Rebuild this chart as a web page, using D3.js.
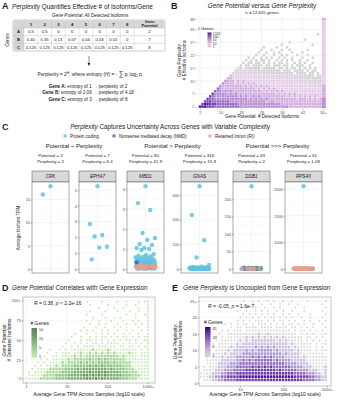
<!DOCTYPE html>
<html>
<head>
<meta charset="utf-8">
<script src="https://cdn.jsdelivr.net/npm/d3@7"></script>
<style>
  body { margin: 0; background: #fff; }
  svg { display: block; font-family: "Liberation Sans", Arial, sans-serif; }
</style>
</head>
<body>
<div id="chart"></div>
<script>
// ---------------- data ----------------
// A: toy table
const isoNums = ["1", "2", "3", "4", "5", "6", "7", "8"];
const toyGenes = ["A", "B", "C"];
const geneA = ["0.5", "0.5", "0", "0", "0", "0", "0", "0"];
const geneB = ["0.40", "0.35", "0.13", "0.07", "0.04", "0.03", "0.01", "0"];
const geneC = ["0.125", "0.125", "0.125", "0.125", "0.125", "0.125", "0.125", "0.125"];
const toyPotential = ["2", "7", "8"];
const toyEntropy = ["1", "2.06", "3"];
const toyPerplexity = ["2", "4.18", "8"];

// B: potential vs perplexity heatmap (row = perplexity 36..2, col = potential 2..49)
const potentialTicks = [2, 10, 18, 26, 34, 42, 50];
const potentialLabels = ["2", "10", "18", "26", "34", "42", "50+"];
const perplexityTicks = [2, 7, 12, 17, 22, 27, 32, 36];
const perplexityLabels = ["2", "7", "12", "17", "22", "27", "33", "48"];
const heatLegend = ["1243", "300", "50", "10", "1"];
const heatRows = [
  "", "", "", "", "", "",
  ".......... .......... .......... .......... ......1.",
  "",
  ".......... .......... .......... .......... .1......",
  ".......... .......... .......... .....1.... ........",
  ".......... .......... .......... ..1....... ....1...",
  ".......... .......... .....1.... 1...1..... ........",
  ".......... .......... ....1...1. ..1..1.... ..1.....",
  ".......... .......... ...1..1..1 .1....1... 1.......",
  ".......... .......... ..1..1...1 ..1.1...1. ..1.....",
  ".......... .........1 .1..1.1.1. .1.1..1... 1...1...",
  ".......... ........1. 1.1.11.1.. 1.1.1.1..1 ..1.....",
  ".......... .......1.1 1.11.1.1.1 .11.1..1.1 .1..1...",
  ".......... ......1.11 .1111.11.1 11.11.1.11 1..1....",
  ".......... .....11.11 1111.11111 .11.1.11.1 .1.1.1..",
  ".......... ....112121 1211111111 11.111.111 1.1.11..",
  ".......... ...2212121 2121211212 1111111.11 11.11.1.",
  ".......... ..32222222 2222222221 2122121212 11111.11",
  ".......... .332222222 2222222222 2222212121 12121111",
  ".......... 4333232322 2222222222 2222222221 21212111",
  ".........4 3333232323 2322222222 2222222222 22212121",
  "........43 3333333232 3232323222 2222222222 22222221",
  ".......543 3333333333 3323232323 2222222222 22222222",
  "......5443 4343333333 3333323232 3232222222 22222222",
  ".....64444 4343433333 3333333333 2323232322 22222222",
  "....654444 4444434343 3434333333 3333232323 23232322",
  "...6554444 4444444443 4343434333 3333333323 33232323",
  "..66655555 5544444444 4444443343 3333333333 33333333",
  ".677666555 5555544444 4444444444 4433333333 33333333",
  "7776665555 5555554444 4444444444 4444433333 33333333"
];
const heatPlusCol = "32222222222222222222222222333334444";

// C: example genes
const isoTypes = ["Protein coding", "Nonsense mediated decay (NMD)", "Retained Intron (RI)"];
const cGroups = ["Potential ~ Perplexity", "Potential > Perplexity", "Potential >>> Perplexity"];
const cGenes = ["CRK", "EPHA7", "MBD1", "GNAS", "DDB1", "RPS4X"];
const cPotential = ["2", "7", "80", "316", "63", "51"];
const cPerplexity = ["2", "6.4", "41.9", "15.9", "2", "1.09"];
const cTicks = [[0, 5, 10, 15], [0, 1, 2, 3, 4, 5], [0, 1, 2, 3, 4], [0, 200, 400, 600], [0, 50, 100, 150, 200], [0, 1000, 2000, 3000]];
const pcTPM = [
  [17.9, 16.1],
  [5.25, 2.85, 2.15, 2.05, 1.4, 1.35, 0.6],
  [4.15, 3.3, 2.95, 1.8, 1.55, 1.45, 1.25, 1.2, 1.05, 1.05, 1.0, 0.95, 0.74, 0.7, 0.66, 0.63, 0.61, 0.57,
   0.55, 0.52, 0.51, 0.49, 0.47, 0.45, 0.44, 0.42, 0.41, 0.4, 0.38, 0.36, 0.36, 0.34, 0.33, 0.31, 0.3, 0.29,
   0.28, 0.27, 0.25, 0.24, 0.24, 0.22, 0.21, 0.2, 0.19, 0.18, 0.17, 0.15, 0.14, 0.13, 0.12, 0.11, 0.1, 0.09,
   0.08, 0.07, 0.06, 0.05, 0.04, 0.03, 0.02, 0.01, 0.01, 0],
  [672, 437, 232, 93, 32, 18, 15, 14, 12, 11, 10, 9, 9, 8, 8, 7, 7, 6, 6, 6, 5, 5, 5, 4, 4, 4, 3, 3, 3, 3,
   2, 2, 2, 2, 2, 1, 1, 1, 1, 1, 1, 0.5, 0.5, 0.5, 0.3, 0.2, 0.1, 0, 0, 0],
  [238, 4, 3.5, 3, 2.5, 2.2, 2, 1.8, 1.5, 1.2, 1, 0.8, 0.6, 0.5, 0.4, 0.3, 0.2, 0.1, 0.05, 0, 0],
  [3120, 25, 18, 12, 8, 5, 3, 2, 1, 0.5, 0]
];
const nmdTPM = [[], [], [0.32, 0.08], [], [2.1, 1.6, 1.1, 0.7, 0.4, 0.2, 0.1, 0], [4, 1]];
const riTPM = [
  [], [],
  [0.2, 0.18, 0.15, 0.14, 0.12, 0.1, 0.09, 0.07, 0.05, 0.03, 0.01, 0],
  [],
  [1.4, 0.9, 0.5, 0.3, 0.1, 0],
  [30, 22, 17, 14, 11, 9, 7, 6, 5, 4, 3, 2.5, 2, 1.5, 1, 0.8, 0.5, 0.3, 0.1, 0]
];

// D: potential vs expression density (row = potential 98..2 step 4, col = log10 TPM 0..3 step 0.075)
const dYTicks = [2, 25, 50, 75, 100];
const dYLabels = ["2", "25", "50", "75", "100+"];
const dXTicks = [1, 10, 100, 1000];
const dXLabels = ["1", "10", "100", "1000+"];
const dLegend = ["50", "20", "5", "1"];
const dRows = [
  ".......... .......... 1....1.... 1..1...1.1 1",
  ".......... .......... .1.....1.. ...1..1... 1",
  ".......... .......... ....1....1 ..1....1.. 1",
  ".......... .......... .1....1... 1...1..1.. 1",
  ".......... .......... 1....1.... ...1..1..1 1",
  ".......... .......... ..1...1..1 .1....1... 1",
  ".......... .......... 1...1...1. ..1..1.1.. 1",
  ".......... .......... .1..1.1... 1..1..1.1. 1",
  ".......... .........1 ...1..1..1 .1.1...1.. 1",
  ".......... ........1. 1.1..1.1.. 1..1.1..1. 1",
  ".......... ......1... 1..1.1.1.1 ..1.1..1.. 1",
  ".......... .....1..1. .1.1.11.1. 1.11.1.1.1 1",
  ".......... ....1...1. 11.1.1.1.1 .1.11.1..1 1",
  ".......... ...1..1.1. 1.11.1.111 1.1.1.1.1. 1",
  ".......... ..1..1.1.1 111.111.11 .11.11.1.1 1",
  "........1. .1.1.11111 1121111211 1111111.1. 1",
  ".......1.. 1.111.1121 1212121212 1111211.11 1",
  "......1..1 1.11112121 2222222222 2121111.11 1",
  ".....1.1.1 1111212222 2322323222 2221111111 1",
  "....1.1.11 1121222232 3232333323 2222211111 1",
  "...1.1.111 2122223333 3434343333 3322211111 1",
  "..1.111122 2223333434 4444444343 3332221111 1",
  ".1.1111222 2233334444 4544545444 4333222111 1",
  ".111112222 3333444445 5454545444 4433322211 1",
  "1111122222 3333444444 5545454444 4333222111 1"
];

// E: perplexity vs expression density (row = perplexity 25..1, col = log10 TPM 0.1..2.97 step 0.07)
const eYTicks = [0, 5, 10, 15, 20, 25];
const eYLabels = ["0", "5", "10", "15", "20", "25+"];
const eXTicks = [10, 100, 1000];
const eXLabels = ["10", "100", "1000+"];
const eLegend = ["45", "20", "5", "1"];
const eRows = [
  ".......... ....1..1.1 ..1.1..1.. 1....1.... .1",
  ".......... ...1...1.. 1..1..1..1 ..1....... 1.",
  ".......... .....1..1. .1..1.1... .1..1..... .1",
  ".......... ..1..1..1. 1.1..1.1.. 1...1..... 1.",
  ".......... ....1.1.1. 1.1.1..1.1 ..1...1... .1",
  ".......... ...1.1.1.1 .1.11.1.1. 1..1..1... 1.",
  ".......... ..1.1.1.11 1.1.1.11.1 .1..1.1..1 .1",
  "........1. 1.1.11.1.1 11.1.1.1.1 1.1.1..1.. 1.",
  ".......... 1.11.1111. 1111.1111. 11.1.1.1.. .1",
  ".......1.1 .111.11111 1111111111 .1.11.1.1. 1.",
  "......1..1 1111111112 1121111111 11.1.1.1.. 11",
  ".....1.1.1 1111121212 1212121211 1111.11.1. 1.",
  ".....1.111 1112121222 2222212121 1111.1.1.1 .1",
  "....1.1111 1121222222 2222222221 2111111.1. 11",
  "....1.1111 2122222232 3232322222 1211111.1. 1.",
  "...1.11112 1222232323 3333232222 2121111.1. 11",
  "...1111121 2222333333 3333333232 2221111111 1.",
  "..1.111212 2233333434 3434333322 2221211111 11",
  "..11111222 2233434344 4444343333 2222211111 11",
  "..11112222 3334444444 4444444433 3322221111 11",
  ".1.1112223 3344444545 4545444444 3333222111 12",
  ".111122233 3444455555 5555545444 4433332221 12",
  "1111222334 4455555555 5555555555 5444433322 12",
  "1112233445 5556666666 6666666666 6555554433 22",
  ".111223344 4455555555 5555555555 5555444433 22"
];

// ---------------- drawing ----------------
const W = 348, H = 400;
const svg = d3.select("#chart").append("svg").attr("width", W).attr("height", H);
const defs = svg.append("defs");
const ink = "#1a1a1a";

function rich(g, x, y, parts, size, anchor) {
  const t = g.append("text").attr("x", x).attr("y", y).attr("font-size", size)
    .attr("text-anchor", anchor || "start").attr("fill", ink);
  parts.forEach(p => {
    const s = t.append("tspan").text(p[0]);
    if (p[1] === "i") s.attr("font-style", "italic");
    if (p[1] === "b") s.attr("font-weight", "bold");
  });
  return t;
}
function letter(x, y, s) {
  svg.append("text").attr("x", x).attr("y", y).attr("font-size", 9).attr("font-weight", "bold").attr("fill", ink).text(s);
}
function styleAxis(g, size) {
  g.select(".domain").remove();
  g.selectAll(".tick line").attr("stroke", "#333").attr("stroke-width", 0.4);
  g.selectAll(".tick text").attr("font-size", size || 4).attr("fill", "#4d4d4d")
    .attr("font-family", "Liberation Sans, Arial, sans-serif");
}

// ===== A =====
const gA = svg.append("g");
letter(2, 9, "A");
rich(gA, 12, 9, [["Perplexity", "i"], [" Quantifies Effective # of Isoforms/Gene"]], 6.4);
rich(gA, 90, 17, [["Gene Potential", "i"], [": All Detected Isoforms"]], 4.6, "middle");

const colX = d3.scaleBand().domain(isoNums).range([24, 134]);
const rowY = d3.scaleBand().domain(toyGenes).range([28, 51]);
const tblL = 13, tblR = 165, tblT = 20, tblB = 51;
gA.append("rect").attr("x", tblL).attr("y", tblT).attr("width", tblR - tblL).attr("height", tblB - tblT)
  .attr("rx", 2).attr("fill", "#fff").attr("stroke", "#9a9a9a").attr("stroke-width", 0.5);
gA.append("rect").attr("x", tblL + 0.3).attr("y", tblT + 0.3).attr("width", tblR - tblL - 0.6).attr("height", 7.7)
  .attr("rx", 1.8).attr("fill", "#d6d6d6");
gA.append("rect").attr("x", tblL + 0.3).attr("y", 28).attr("width", 24 - tblL - 0.3).attr("height", tblB - 28 - 0.3)
  .attr("fill", "#d6d6d6");
isoNums.concat(["pot"]).forEach(n => {
  const x = n === "pot" ? 134 : colX(n);
  gA.append("line").attr("x1", x).attr("x2", x).attr("y1", tblT).attr("y2", tblB)
    .attr("stroke", "#c4c4c4").attr("stroke-width", 0.4);
});
toyGenes.forEach(gn => {
  gA.append("line").attr("x1", tblL).attr("x2", tblR).attr("y1", rowY(gn)).attr("y2", rowY(gn))
    .attr("stroke", "#b0b0b0").attr("stroke-width", 0.4);
});
isoNums.forEach(n => {
  gA.append("text").attr("x", colX(n) + colX.bandwidth() / 2).attr("y", 25.6).attr("text-anchor", "middle")
    .attr("font-size", 4.3).attr("font-weight", "bold").attr("fill", ink).text(n);
});
gA.append("text").attr("x", 149.5).attr("y", 23.3).attr("text-anchor", "middle").attr("font-size", 3.8)
  .attr("font-weight", "bold").attr("fill", ink).text("Gene");
gA.append("text").attr("x", 149.5).attr("y", 27.2).attr("text-anchor", "middle").attr("font-size", 3.8)
  .attr("font-weight", "bold").attr("fill", ink).text("Potential");
[geneA, geneB, geneC].forEach((vals, r) => {
  const gn = toyGenes[r];
  const cy = rowY(gn) + rowY.bandwidth() / 2 + 1.5;
  gA.append("text").attr("x", 18.5).attr("y", cy).attr("text-anchor", "middle").attr("font-size", 4.3)
    .attr("font-weight", "bold").attr("fill", ink).text(gn);
  vals.forEach((v, c) => {
    gA.append("text").attr("x", colX(isoNums[c]) + colX.bandwidth() / 2).attr("y", cy)
      .attr("text-anchor", "middle").attr("font-size", 4.2).attr("fill", ink).text(v);
  });
  gA.append("text").attr("x", 149.5).attr("y", cy).attr("text-anchor", "middle").attr("font-size", 4.3)
    .attr("fill", ink).text(toyPotential[r]);
});
gA.append("text").attr("transform", "translate(8.5,40) rotate(-90)").attr("text-anchor", "middle")
  .attr("font-size", 4.6).attr("fill", ink).text("Genes");
gA.append("line").attr("x1", 89).attr("x2", 89).attr("y1", 56).attr("y2", 64).attr("stroke", ink).attr("stroke-width", 0.5);
gA.append("path").attr("d", "M87.6,63 L89,66 L90.4,63 Z").attr("fill", ink);
const eq = gA.append("text").attr("x", 90).attr("y", 76).attr("text-anchor", "middle").attr("font-size", 4.8).attr("fill", ink);
eq.append("tspan").text("Perplexity = 2");
eq.append("tspan").attr("dy", -1.8).attr("font-size", 3.3).attr("font-style", "italic").text("H");
eq.append("tspan").attr("dy", 1.8).text(",  where entropy (");
eq.append("tspan").attr("font-style", "italic").text("H");
eq.append("tspan").text(") = - ");
eq.append("tspan").attr("font-size", 7).text("\u2211");
eq.append("tspan").text(" p");
eq.append("tspan").attr("dy", 1.2).attr("font-size", 3.2).text("i");
eq.append("tspan").attr("dy", -1.2).text(" log");
eq.append("tspan").attr("dy", 1.2).attr("font-size", 3.2).text("2");
eq.append("tspan").attr("dy", -1.2).text(" p");
eq.append("tspan").attr("dy", 1.2).attr("font-size", 3.2).text("i");
toyGenes.forEach((gn, i) => {
  rich(gA, 88, 87.5 + i * 6.8, [["Gene " + gn + ":", "b"],
    [" entropy of " + toyEntropy[i] + " \u2192 perplexity of " + toyPerplexity[i]]], 4.6, "middle");
});

// ===== B =====
const gB = svg.append("g");
letter(171, 9, "B");
rich(gB, 262, 8, [["Gene Potential", "i"], [" versus "], ["Gene Perplexity", "i"]], 6.3, "middle");
gB.append("text").attr("x", 262).attr("y", 13.5).attr("text-anchor", "middle").attr("font-size", 4.3)
  .attr("fill", ink).text("n = 12,655 genes");
const xB = d3.scaleLinear().domain([1.5, 50.5]).range([198.7, 324.3]);
const yB = d3.scaleLinear().domain([1.5, 37.6]).range([108, 15]);
const bL = 196, bR = 328, bT = 15, bBot = 109;
potentialTicks.forEach(t => gB.append("line").attr("x1", xB(t)).attr("x2", xB(t)).attr("y1", bT).attr("y2", bBot)
  .attr("stroke", "#e6e6e6").attr("stroke-width", 0.5));
perplexityTicks.forEach(t => gB.append("line").attr("x1", bL).attr("x2", bR).attr("y1", yB(t)).attr("y2", yB(t))
  .attr("stroke", "#e6e6e6").attr("stroke-width", 0.5));
const heatColor = d3.scaleOrdinal().domain(["1", "2", "3", "4", "5", "6", "7"])
  .range(["#d2d2d2", "#e5cfe9", "#d3afdf", "#b78dd4", "#9468c6", "#6f42b1", "#4a1796"]);
heatRows.forEach((row, i) => {
  const k = 36 - i;
  row.replace(/ /g, "").split("").forEach((ch, c) => {
    if (ch === ".") return;
    const p = c + 2;
    gB.append("rect").attr("x", xB(p - 0.5)).attr("y", yB(k + 0.5))
      .attr("width", xB(p + 0.5) - xB(p - 0.5) - 0.2).attr("height", yB(k - 0.5) - yB(k + 0.5) - 0.2)
      .attr("fill", heatColor(ch));
  });
});
heatPlusCol.split("").forEach((ch, i) => {
  const k = 36 - i;
  gB.append("rect").attr("x", xB(49.5)).attr("y", yB(k + 0.5)).attr("width", xB(50.5) - xB(49.5) + 1.5)
    .attr("height", yB(k - 0.5) - yB(k + 0.5) + 0.05).attr("fill", heatColor(ch));
});
const axBx = gB.append("g").attr("transform", `translate(0,${bBot})`)
  .call(d3.axisBottom(xB).tickValues(potentialTicks).tickFormat((d, i) => potentialLabels[i]).tickSize(1).tickPadding(0.8));
styleAxis(axBx, 4);
const axBy = gB.append("g").attr("transform", `translate(${bL},0)`)
  .call(d3.axisLeft(yB).tickValues(perplexityTicks).tickFormat((d, i) => perplexityLabels[i]).tickSize(1).tickPadding(0.8));
styleAxis(axBy, 3.6);
gB.append("text").attr("x", 262).attr("y", 118).attr("text-anchor", "middle").attr("font-size", 4.6)
  .attr("fill", ink).text("Gene Potential: # Detected Isoforms");
gB.append("text").attr("transform", "translate(181,60) rotate(-90)").attr("text-anchor", "middle")
  .attr("font-size", 4.6).attr("fill", ink).text("Gene Perplexity:");
gB.append("text").attr("transform", "translate(186,60) rotate(-90)").attr("text-anchor", "middle")
  .attr("font-size", 4.6).attr("fill", ink).text("# Effective Isoforms");
gB.append("text").attr("x", 197.5).attr("y", 30).attr("font-size", 4.3).attr("fill", ink).text("# Genes");
const gradB = defs.append("linearGradient").attr("id", "gradB").attr("x1", 0).attr("y1", 1).attr("x2", 0).attr("y2", 0);
["#cfcfcf", "#e3cbe7", "#c49ad8", "#9265c4", "#4a1796"].forEach((c, i) =>
  gradB.append("stop").attr("offset", i / 4).attr("stop-color", c));
gB.append("rect").attr("x", 207.5).attr("y", 32.5).attr("width", 4).attr("height", 15).attr("fill", "url(#gradB)");
const legB = d3.scaleLinear().domain([0, 4]).range([33.8, 47]);
heatLegend.forEach((s, i) => gB.append("text").attr("x", 212.8).attr("y", legB(i) + 1).attr("font-size", 3.3)
  .attr("fill", "#333").text(s));

// ===== C =====
const gC = svg.append("g");
letter(2, 130, "C");
rich(gC, 170, 129, [["Perplexity", "i"], [" Captures Uncertainty Across Genes with Variable Complexity"]], 6.3, "middle");
const typeColor = d3.scaleOrdinal().domain(isoTypes).range(["#5cc3e2", "#4a64a6", "#ee9d85"]);
const legX = [65, 114, 210];
isoTypes.forEach((t, i) => {
  gC.append("circle").attr("cx", legX[i]).attr("cy", 136).attr("r", 1.8).attr("fill", typeColor(t)).attr("opacity", 0.8);
  gC.append("text").attr("x", legX[i] + 5).attr("y", 137.6).attr("font-size", 4.5).attr("fill", ink).text(t);
});
const panelLeft = [32, 79, 127, 181, 233, 285];
const pW = 37, pTop = 182, pBot = 273;
const groupCenter = [(32 + 116) / 2, (127 + 218) / 2, (233 + 322) / 2];
cGroups.forEach((s, i) => gC.append("text").attr("x", groupCenter[i]).attr("y", 148).attr("text-anchor", "middle")
  .attr("font-size", 6).attr("fill", ink).text(s));
gC.append("text").attr("transform", "translate(20,228) rotate(-90)").attr("text-anchor", "middle")
  .attr("font-size", 4.6).attr("fill", ink).text("Average Isoform TPM");

cGenes.forEach((gene, gi) => {
  const L = panelLeft[gi], cx = L + pW / 2;
  const g = gC.append("g");
  g.append("text").attr("x", cx).attr("y", 157).attr("text-anchor", "middle").attr("font-size", 4.4).attr("fill", ink)
    .text("Potential = " + cPotential[gi]);
  g.append("text").attr("x", cx).attr("y", 162.5).attr("text-anchor", "middle").attr("font-size", 4.4).attr("fill", ink)
    .text("Perplexity = " + cPerplexity[gi]);
  g.append("rect").attr("x", L).attr("y", 171).attr("width", pW).attr("height", pTop - 171)
    .attr("fill", "#d9d9d9").attr("stroke", "#444").attr("stroke-width", 0.45);
  g.append("text").attr("x", cx).attr("y", 178.3).attr("text-anchor", "middle").attr("font-size", 4.6)
    .attr("font-style", "italic").attr("fill", ink).text(gene);
  const all = pcTPM[gi].concat(nmdTPM[gi], riTPM[gi]);
  const mx = d3.max(all);
  const y = d3.scaleLinear().domain([-0.05 * mx, 1.05 * mx]).range([pBot, pTop]);
  g.append("rect").attr("x", L).attr("y", pTop).attr("width", pW).attr("height", pBot - pTop).attr("fill", "#fff");
  const ticks = cTicks[gi];
  ticks.slice(0, -1).forEach((t, i) => {
    const m = (t + ticks[i + 1]) / 2;
    g.append("line").attr("x1", L).attr("x2", L + pW).attr("y1", y(m)).attr("y2", y(m)).attr("stroke", "#f3f3f3").attr("stroke-width", 0.35);
  });
  ticks.forEach(t => g.append("line").attr("x1", L).attr("x2", L + pW).attr("y1", y(t)).attr("y2", y(t))
    .attr("stroke", "#e8e8e8").attr("stroke-width", 0.5));
  g.append("line").attr("x1", cx).attr("x2", cx).attr("y1", pTop).attr("y2", pBot).attr("stroke", "#e8e8e8").attr("stroke-width", 0.5);
  const ax = g.append("g").attr("transform", `translate(${L},0)`)
    .call(d3.axisLeft(y).tickValues(ticks).tickFormat(d3.format("d")).tickSize(1.2).tickPadding(0.8));
  styleAxis(ax, 3.9);
  let n = 0;
  [[pcTPM[gi], isoTypes[0]], [nmdTPM[gi], isoTypes[1]], [riTPM[gi], isoTypes[2]]].forEach(([vals, type]) => {
    vals.forEach(v => {
      const off = (((n * 0.618034 + 0.5) % 1) - 0.5) * 2 * 10;
      n++;
      g.append("circle").attr("cx", cx + off).attr("cy", y(v)).attr("r", 2.2)
        .attr("fill", typeColor(type)).attr("opacity", 0.85);
    });
  });
  g.append("rect").attr("x", L).attr("y", pTop).attr("width", pW).attr("height", pBot - pTop)
    .attr("fill", "none").attr("stroke", "#444").attr("stroke-width", 0.45);
});

// ===== D & E density panels =====
function densityPanel(opt) {
  const g = svg.append("g");
  const { x, y, L, R, T, B } = opt;
  g.append("rect").attr("x", L).attr("y", T).attr("width", R - L).attr("height", B - T).attr("fill", "#fff");
  opt.xTicks.forEach(t => g.append("line").attr("x1", x(t)).attr("x2", x(t)).attr("y1", T).attr("y2", B)
    .attr("stroke", "#ebebeb").attr("stroke-width", 0.5));
  opt.yTicks.forEach(t => g.append("line").attr("x1", L).attr("x2", R).attr("y1", y(t)).attr("y2", y(t))
    .attr("stroke", "#ebebeb").attr("stroke-width", 0.5));
  opt.rows.forEach((row, i) => {
    const rc = opt.rowCenter(i);
    row.replace(/ /g, "").split("").forEach((ch, c) => {
      if (ch === ".") return;
      const lc = opt.colCenter(c);
      const x0 = x(Math.pow(10, lc - opt.halfCol)), x1 = x(Math.pow(10, lc + opt.halfCol));
      const y0 = y(rc + opt.halfRow), y1 = y(rc - opt.halfRow);
      const s = ch === "1" ? 0.55 : 0.8;
      const w = (x1 - x0) * s, h = (y1 - y0) * s;
      g.append("rect").attr("x", (x0 + x1 - w) / 2).attr("y", (y0 + y1 - h) / 2).attr("width", w).attr("height", h)
        .attr("fill", opt.color(ch));
    });
  });
  g.append("rect").attr("x", L).attr("y", T).attr("width", R - L).attr("height", B - T)
    .attr("fill", "none").attr("stroke", "#8a8a8a").attr("stroke-width", 0.5);
  const ax = g.append("g").attr("transform", `translate(0,${B})`)
    .call(d3.axisBottom(x).tickValues(opt.xTicks).tickFormat((d, i) => opt.xLabels[i]).tickSize(1.2).tickPadding(0.8));
  styleAxis(ax, 4.1);
  const ay = g.append("g").attr("transform", `translate(${L},0)`)
    .call(d3.axisLeft(y).tickValues(opt.yTicks).tickFormat((d, i) => opt.yLabels[i]).tickSize(1.2).tickPadding(0.8));
  styleAxis(ay, 4.1);
  g.append("text").attr("x", (L + R) / 2).attr("y", 396).attr("text-anchor", "middle").attr("font-size", 5)
    .attr("fill", ink).text("Average Gene TPM Across Samples (log10 scale)");
  opt.yTitle.forEach((s, i) => g.append("text").attr("transform", `translate(${opt.yTitleX + i * 5.2},${(T + B) / 2}) rotate(-90)`)
    .attr("text-anchor", "middle").attr("font-size", 4.8).attr("fill", ink).text(s));
  g.append("text").attr("x", opt.legX - 1).attr("y", opt.legY - 3).attr("font-size", 4.9).attr("fill", ink).text("# Genes");
  const gid = "grad" + opt.id;
  const gr = defs.append("linearGradient").attr("id", gid).attr("x1", 0).attr("y1", 1).attr("x2", 0).attr("y2", 0);
  opt.gradient.forEach((c, i) => gr.append("stop").attr("offset", i / (opt.gradient.length - 1)).attr("stop-color", c));
  g.append("rect").attr("x", opt.legX).attr("y", opt.legY).attr("width", 5.5).attr("height", 30).attr("fill", `url(#${gid})`);
  const ls = d3.scaleLinear().domain([0, opt.legend.length - 1]).range([opt.legY + 2, opt.legY + 29]);
  opt.legend.forEach((s, i) => g.append("text").attr("x", opt.legX + 7.5).attr("y", ls(i) + 1.3)
    .attr("font-size", 3.7).attr("fill", "#333").text(s));
  return g;
}

// D
letter(2, 291, "D");
rich(svg, 12, 290, [["Gene Potential", "i"], [" Correlates with Gene Expression"]], 6.3);
const dColor = d3.scaleOrdinal().domain(["1", "2", "3", "4", "5"])
  .range(["#c4ebb3", "#a8d99a", "#8dc381", "#77ab6c", "#62905a"]);
const gD = densityPanel({
  id: "D", L: 23, R: 155, T: 297, B: 383,
  x: d3.scaleLog().domain([0.84, 1500]).range([23, 155]),
  y: d3.scaleLinear().domain([-3.7, 104]).range([383, 297]),
  xTicks: dXTicks, xLabels: dXLabels, yTicks: dYTicks, yLabels: dYLabels,
  rows: dRows, rowCenter: i => 98 - 4 * i, halfRow: 2,
  colCenter: c => 0.075 * c, halfCol: 0.0375, color: dColor,
  yTitle: ["Gene Potential:", "# Detected Isoforms"], yTitleX: 6,
  legX: 31.5, legY: 328, legend: dLegend,
  gradient: ["#c9efba", "#a4d696", "#86bd7a", "#6c9d63", "#5a8554"]
});
rich(gD, 34, 305, [["R", "i"], [" = 0.38, "], ["p", "i"], [" < 2.2e-16"]], 5);

// E
letter(172, 291, "E");
rich(svg, 183, 290, [["Gene Perplexity", "i"], [" is Uncoupled from Gene Expression"]], 6.3);
const eColor = d3.scaleOrdinal().domain(["1", "2", "3", "4", "5", "6"])
  .range(["#d8d8d8", "#cdc1e1", "#ae96d1", "#8d67be", "#6b3aa8", "#4a1391"]);
const gE = densityPanel({
  id: "E", L: 199, R: 331, T: 297, B: 386,
  x: d3.scaleLog().domain([1.13, 1250]).range([199, 331]),
  y: d3.scaleLinear().domain([-0.85, 26.2]).range([386, 297]),
  xTicks: eXTicks, xLabels: eXLabels, yTicks: eYTicks, yLabels: eYLabels,
  rows: eRows, rowCenter: i => 25 - i, halfRow: 0.5,
  colCenter: c => 0.1 + 0.07 * c, halfCol: 0.035, color: eColor,
  yTitle: ["Gene Perplexity:", "# Effective Isoforms"], yTitleX: 177,
  legX: 205, legY: 327, legend: eLegend,
  gradient: ["#d9d9d9", "#c3b3dd", "#9d7ec8", "#6f3fae", "#3f007d"]
});
rich(gE, 208, 307.5, [["R", "i"], [" = -0.05, "], ["p", "i"], [" = 1.6e-7"]], 5);
</script>
</body>
</html>
